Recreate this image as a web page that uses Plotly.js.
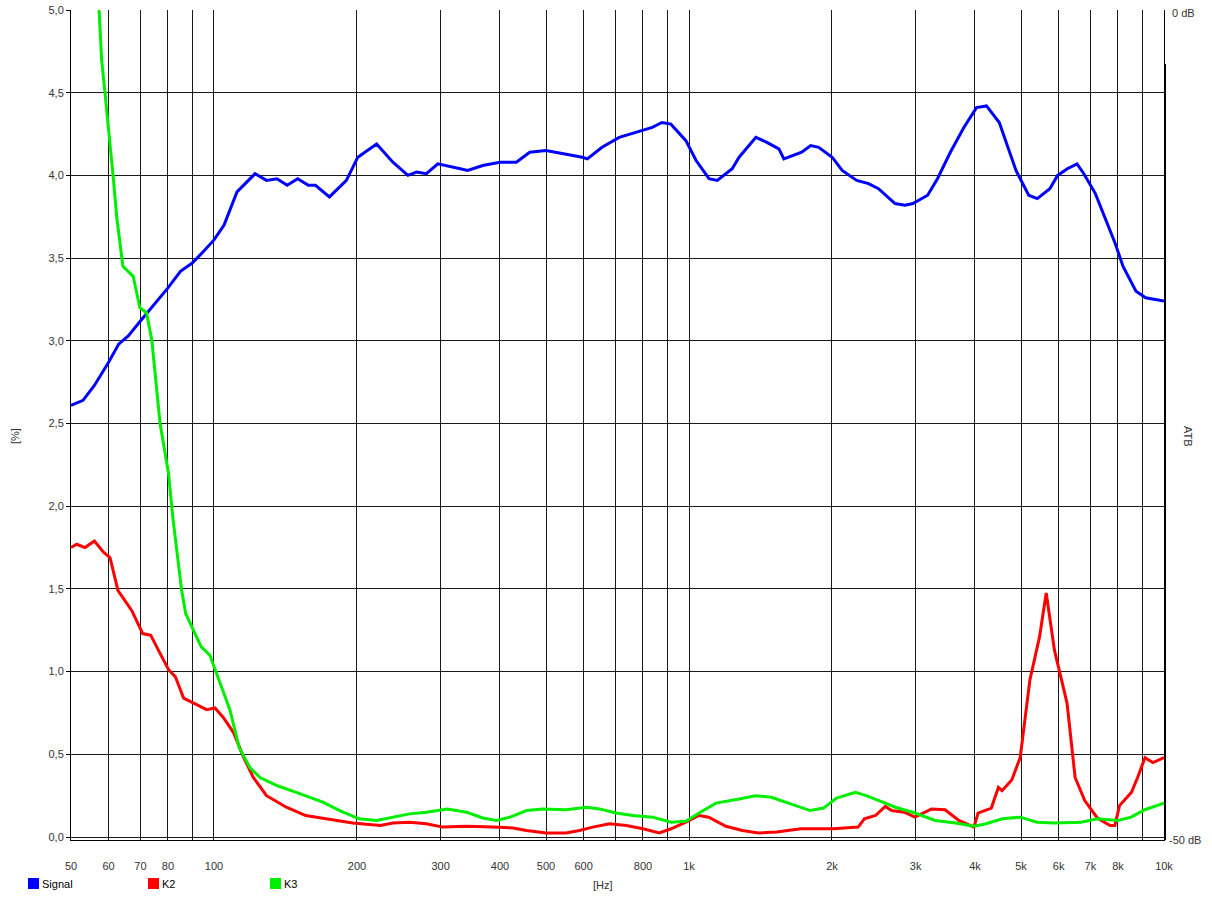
<!DOCTYPE html>
<html>
<head>
<meta charset="utf-8">
<script src="https://cdn.plot.ly/plotly-3.0.1.min.js"></script>
<style>html,body{margin:0;padding:0;background:#fff;}#chart{width:1212px;height:897px;}</style>
</head>
<body>
<div id="chart"></div>
<script>
// Signal
const sigF = [50,53,56,60,63,66,70,75,80,85,90,95,100,105,111.8,122,129,135.7,142.6,150,158,163.5,175,190,200.8,220,238,256,267,280,296,330,342,368,400,433,462,500,525,568,596,611,656,713,775,837,877,916,985,1035,1102,1147,1233,1275,1383,1459,1546,1584,1727,1804,1875,2002,2101,2255,2388,2506,2715,2850,2960,3180,3335,3550,3790,4030,4230,4500,4880,5190,5410,5750,5970,6260,6560,6780,7170,7520,7890,8200,8730,9150,10000];
const sigV = [2.61,2.64,2.73,2.87,2.98,3.03,3.12,3.22,3.32,3.42,3.47,3.54,3.61,3.70,3.90,4.01,3.97,3.98,3.94,3.98,3.94,3.94,3.87,3.97,4.11,4.19,4.08,4.00,4.02,4.01,4.07,4.04,4.03,4.06,4.08,4.08,4.14,4.15,4.14,4.12,4.11,4.10,4.17,4.23,4.26,4.29,4.32,4.31,4.21,4.09,3.98,3.97,4.04,4.11,4.23,4.20,4.16,4.10,4.14,4.18,4.17,4.11,4.03,3.97,3.95,3.92,3.83,3.82,3.83,3.88,3.98,4.14,4.29,4.41,4.42,4.32,4.03,3.88,3.86,3.92,4.00,4.04,4.07,4.01,3.89,3.74,3.59,3.45,3.30,3.26,3.24];
// K2
const k2F = [50,51.4,53.5,56,58.6,60.4,62.8,67.1,70.8,73.6,77,80.3,82.9,86.3,90.6,96.5,100.5,104.8,110,115.5,121,129,142,156,172,196,224,238,258,280,303,340,387,426,455,500,551,588,627,680,738,800,866,917,985,1050,1100,1196,1295,1400,1530,1720,2015,2270,2340,2470,2590,2670,2840,2990,3240,3460,3700,3980,4060,4330,4480,4560,4780,4980,5220,5470,5650,5880,6250,6500,6810,7240,7700,7880,8060,8540,8800,9120,9480,10000];
const k2V = [1.75,1.77,1.75,1.79,1.72,1.69,1.49,1.37,1.23,1.22,1.11,1.01,0.97,0.84,0.81,0.77,0.78,0.72,0.63,0.48,0.36,0.25,0.18,0.13,0.11,0.085,0.07,0.085,0.09,0.08,0.06,0.065,0.06,0.055,0.04,0.025,0.025,0.04,0.06,0.08,0.07,0.05,0.025,0.05,0.09,0.13,0.12,0.065,0.04,0.025,0.03,0.05,0.05,0.06,0.11,0.13,0.185,0.16,0.15,0.12,0.17,0.165,0.10,0.06,0.145,0.175,0.30,0.28,0.345,0.48,0.95,1.21,1.475,1.13,0.81,0.36,0.22,0.115,0.07,0.07,0.19,0.27,0.36,0.48,0.45,0.48];
// K3
const k3F = [57.3,58,59,60.4,61.4,62.4,64.3,67.6,69.8,72.1,74,77,80.2,82,85.5,87.2,90,94,98,103,108,113,119,125,136,149,170,184,202,220,238,258,280,310,340,368,393,420,455,492,551,608,648,702,762,838,917,985,1050,1140,1275,1380,1490,1640,1800,1920,2045,2240,2360,2510,2720,2990,3300,3640,3980,4220,4570,4980,5400,5880,6690,7240,7990,8530,9110,10000];
const k3V = [5.0,4.70,4.49,4.21,3.98,3.75,3.45,3.39,3.20,3.17,3.00,2.50,2.20,1.92,1.49,1.35,1.27,1.15,1.10,0.93,0.77,0.54,0.42,0.36,0.31,0.27,0.21,0.16,0.11,0.10,0.12,0.14,0.15,0.17,0.15,0.115,0.10,0.12,0.16,0.17,0.165,0.18,0.17,0.145,0.13,0.12,0.09,0.095,0.145,0.205,0.23,0.25,0.24,0.20,0.16,0.175,0.235,0.27,0.25,0.22,0.18,0.145,0.10,0.085,0.065,0.08,0.11,0.12,0.09,0.085,0.09,0.11,0.10,0.12,0.165,0.205];

const seriesNames = ['Signal','K2','K3'];
const seriesColors = ['#0000ff','#ff0000','#00ee00'];

// x-axis grid positions and labels
const xGrid = [50,60,70,80,90,100,200,300,400,500,600,700,800,900,1000,2000,3000,4000,5000,6000,7000,8000,9000,10000];
const xLabels = ['50','60','70','80','','100','200','300','400','500','600','','800','','1k','2k','3k','4k','5k','6k','7k','8k','','10k'];
const yTicks = [0,0.5,1,1.5,2,2.5,3,3.5,4,4.5,5];
const rightLabels = ['0 dB','-50 dB'];

const FONT = 'Liberation Sans, Arial, sans-serif';

const traces = [
  {x: sigF, y: sigV, name: seriesNames[0], type: 'scatter', mode: 'lines', line: {color: seriesColors[0], width: 3}, showlegend: false},
  {x: k2F, y: k2V, name: seriesNames[1], type: 'scatter', mode: 'lines', line: {color: seriesColors[1], width: 3}, showlegend: false},
  {x: k3F, y: k3V, name: seriesNames[2], type: 'scatter', mode: 'lines', line: {color: seriesColors[2], width: 3}, showlegend: false}
];

// layout helpers (pixel -> paper)
const L = 71, R = 1164, T = 10, B = 840;
const px = v => (v - L) / (R - L);
const py = v => (B - v) / (B - T);

const shapes = [
  {type: 'line', xref: 'paper', yref: 'paper', x0: px(1165), x1: px(1165), y0: py(64), y1: py(840), line: {color: '#000', width: 2}}
];
const annotations = [
  {text: rightLabels[0], xref: 'paper', yref: 'paper', x: px(1170), y: py(13), xanchor: 'left', yanchor: 'middle', showarrow: false, font: {family: FONT, size: 11, color: '#333'}},
  {text: rightLabels[1], xref: 'paper', yref: 'paper', x: px(1167), y: py(840), xanchor: 'left', yanchor: 'middle', showarrow: false, font: {family: FONT, size: 11, color: '#333'}},
  {text: 'ATB', xref: 'paper', yref: 'paper', x: px(1188), y: py(436), xanchor: 'center', yanchor: 'middle', textangle: 90, showarrow: false, font: {family: FONT, size: 11, color: '#333'}},
  {text: '[%]', xref: 'paper', yref: 'paper', x: px(15), y: py(436), xanchor: 'center', yanchor: 'middle', textangle: -90, showarrow: false, font: {family: FONT, size: 11, color: '#333'}},
  {text: '[Hz]', xref: 'paper', yref: 'paper', x: px(603), y: py(885), xanchor: 'center', yanchor: 'middle', showarrow: false, font: {family: FONT, size: 11, color: '#333'}}
];
// legend row
const legX = [28, 148, 270];
seriesNames.forEach((n, i) => {
  shapes.push({type: 'rect', xref: 'paper', yref: 'paper', x0: px(legX[i]), x1: px(legX[i] + 11), y0: py(889), y1: py(878), fillcolor: seriesColors[i], line: {width: 0}});
  annotations.push({text: n, xref: 'paper', yref: 'paper', x: px(legX[i] + 12), y: py(884), xanchor: 'left', yanchor: 'middle', showarrow: false, font: {family: FONT, size: 11, color: '#000'}});
});

const layout = {
  width: 1212, height: 897,
  margin: {l: L, r: 1212 - R, t: T, b: 897 - B, pad: 0},
  paper_bgcolor: '#fff', plot_bgcolor: '#fff',
  separators: ', ',
  showlegend: false,
  font: {family: FONT, size: 11, color: '#333'},
  xaxis: {
    type: 'log', range: [Math.log10(50), 4],
    tickmode: 'array', tickvals: xGrid, ticktext: xLabels,
    showgrid: true, gridcolor: '#1a1a1a', gridwidth: 1,
    ticks: '', ticklabelstandoff: 16,
    showline: true, linecolor: '#000', linewidth: 1, mirror: false,
    zeroline: false, tickfont: {family: FONT, size: 11, color: '#333'}
  },
  yaxis: {
    range: [-0.018, 5], tickmode: 'array', tickvals: yTicks, tickformat: '.1f',
    showgrid: true, gridcolor: '#1a1a1a', gridwidth: 1,
    ticks: 'outside', ticklen: 4, tickcolor: '#000',
    showline: true, linecolor: '#000', linewidth: 1, mirror: true,
    zeroline: false, tickfont: {family: FONT, size: 11, color: '#333'}
  },
  shapes: shapes,
  annotations: annotations
};

Plotly.newPlot('chart', traces, layout, {displayModeBar: false, staticPlot: true});
</script>
</body>
</html>
